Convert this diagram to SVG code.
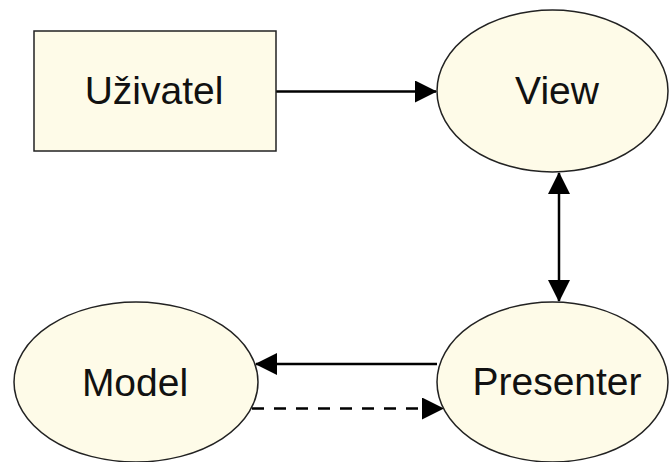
<svg xmlns="http://www.w3.org/2000/svg" width="669" height="462" viewBox="0 0 669 462">
  <style>
    .node { fill: #fefbe8; stroke: #222; stroke-width: 1.5; }
    .label { font-family: "Liberation Sans", Arial, sans-serif; font-size: 39px; fill: #111; text-anchor: middle; }
    .edge { fill: none; stroke: #000; stroke-width: 2.5; }
    .dashed { stroke-dasharray: 12 10; }
  </style>
  <defs>
    <marker id="arrow" viewBox="0 0 22 22" refX="21" refY="11" markerWidth="22" markerHeight="22" markerUnits="userSpaceOnUse" orient="auto-start-reverse">
      <path d="M0,0 L22,11 L0,22 Z" fill="#000"/>
    </marker>
  </defs>
  <rect width="669" height="462" fill="#fff"/>

  <g id="connectors">
    <path class="edge" d="M276,91.5 L436,91.5" marker-end="url(#arrow)"/>
    <path class="edge" d="M559,173 L559,301" marker-start="url(#arrow)" marker-end="url(#arrow)"/>
    <path class="edge" d="M437,364 L256,364" marker-end="url(#arrow)"/>
    <path class="edge dashed" d="M252,408.5 L443,408.5" marker-end="url(#arrow)"/>
  </g>

  <g id="uzivatel">
    <rect class="node" x="34" y="31" width="242" height="120"/>
    <text class="label" x="154" y="104">Uživatel</text>
  </g>
  <g id="view">
    <ellipse class="node" cx="552.5" cy="91" rx="115.5" ry="81"/>
    <text class="label" x="557" y="104">View</text>
  </g>
  <g id="model">
    <ellipse class="node" cx="136" cy="382" rx="122" ry="80"/>
    <text class="label" x="135" y="396">Model</text>
  </g>
  <g id="presenter">
    <ellipse class="node" cx="552.5" cy="382" rx="115.5" ry="80"/>
    <text class="label" x="557" y="395">Presenter</text>
  </g>
</svg>
